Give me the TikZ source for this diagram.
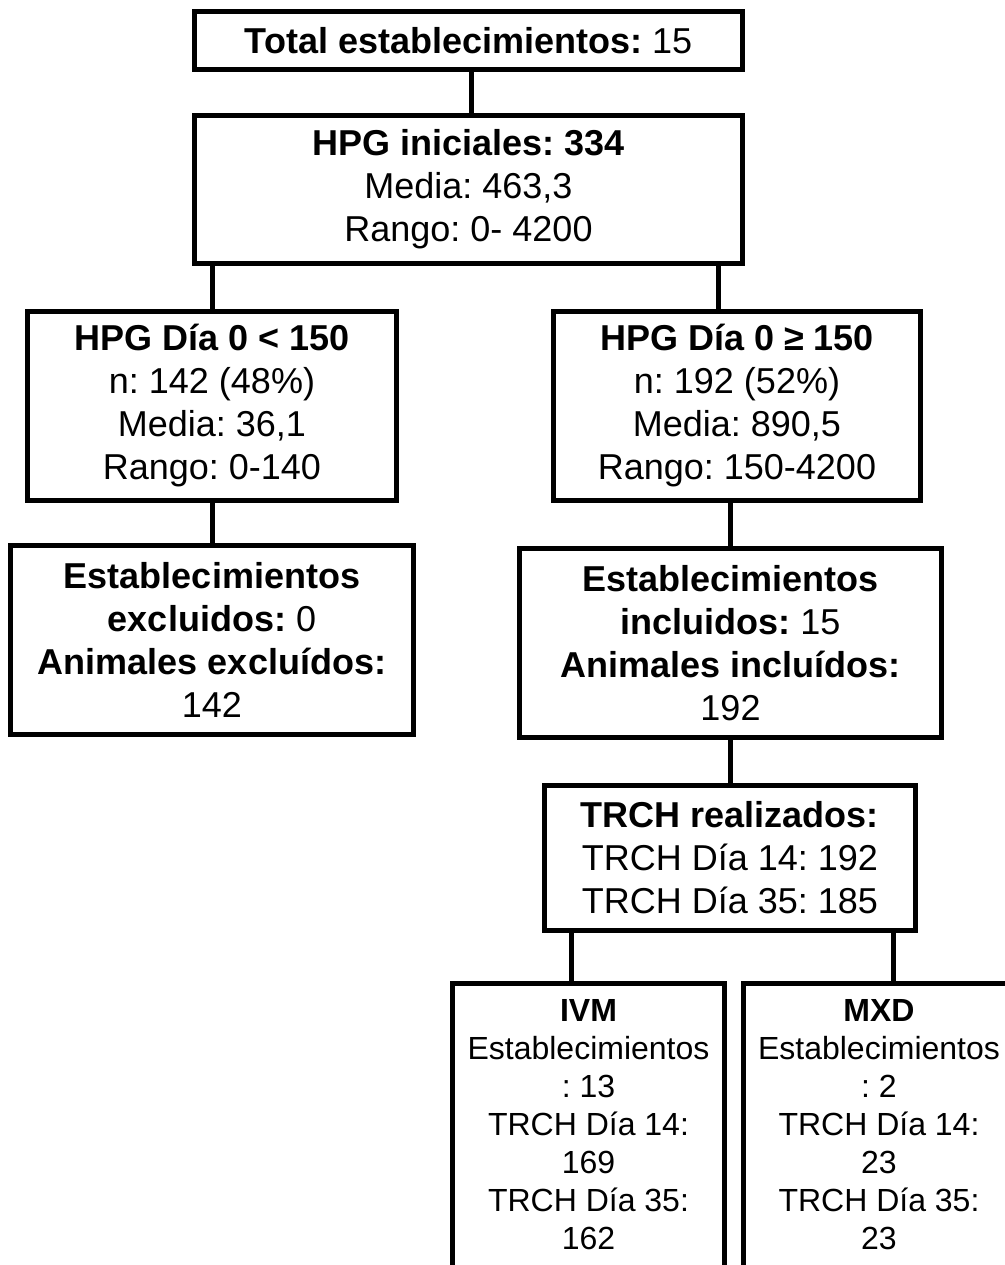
\documentclass[tikz,border=0pt]{standalone}
\usepackage{fontspec}
\setmainfont{Liberation Sans}
\usepackage{tikz}
\usetikzlibrary{positioning}
\frenchspacing
\newcommand{\cutoff}{\rule[-45pt]{0pt}{0pt}}
\tikzset{
 box/.style
  = {rectangle, draw, line width=3.75pt, align=center, inner sep=0pt,
     font=\fontsize{27}{32.25}\selectfont},
 cut/.style
  = {box, anchor=north, inner ysep=12.45pt, minimum width=204pt,
     font=\fontsize{24}{28.5}\selectfont},
 l/.style
  = {draw, line width=3.75pt},
}

\begin{document}
\begin{tikzpicture}[x=0.75pt,y=-0.75pt]
\useasboundingbox (0,0) rectangle (1005,1265);

% Top
\node[box, minimum width=411pt, minimum height=43.5pt] (total) at (468.5,40.5)
  {\textbf{Total establecimientos:} 15};
\node[box, minimum width=411pt, minimum height=111pt] (hpg) at (468.5,189.5)
  {\textbf{HPG iniciales: 334}\\Media: 463,3\\Rango: 0- 4200};

% HPG day 0
\node[box, minimum width=276.75pt, minimum height=141.75pt] (low) at (212,406)
  {\textbf{HPG Día 0 < 150}\\n: 142 (48\%)\\Media: 36,1\\Rango: 0-140};
\node[box, minimum width=275.25pt, minimum height=141.75pt] (high) at (737,406)
  {\textbf{HPG Día 0 ≥ 150}\\n: 192 (52\%)\\Media: 890,5\\Rango: 150-4200};

% Excluded / included
\node[box, minimum width=302.25pt, minimum height=141.75pt] (excl) at (212,640)
  {\textbf{Establecimientos}\\\textbf{excluidos:} 0\\\textbf{Animales excluídos:}\\142};
\node[box, minimum width=316.5pt, minimum height=141.75pt] (incl) at (730.5,643)
  {\textbf{Establecimientos}\\\textbf{incluidos:} 15\\\textbf{Animales incluídos:}\\192};

% TRCH
\node[box, minimum width=278.25pt, minimum height=108.75pt] (trch) at (730,858)
  {\textbf{TRCH realizados:}\\TRCH Día 14: 192\\TRCH Día 35: 185};

% Treatments
\node[cut] (ivm) at (588.5,980.5)
  {\textbf{IVM}\\Establecimientos\\: 13\\TRCH Día 14:\\169\\TRCH Día 35:\\162\cutoff};
\node[cut] (mxd) at (879,980.5)
  {\textbf{MXD}\\Establecimientos\\: 2\\TRCH Día 14:\\23\\TRCH Día 35:\\23\cutoff};

% Connectors
\draw[l] ([xshift=1.9pt]total.south) -- ([xshift=1.9pt]total.south |- hpg.north);
\draw[l] (hpg.south -| low.north) -- (low.north);
\draw[l] ([xshift=-14.25pt]high.north) -- ([xshift=-14.25pt]high.north |- hpg.south);
\draw[l] (low.south) -- (excl.north);
\draw[l] (high.south -| incl.north) -- (incl.north);
\draw[l] (incl.south -| trch.north) -- (trch.north);
\draw[l] ([xshift=-12.4pt]ivm.north) -- ([xshift=-12.4pt]ivm.north |- trch.south);
\draw[l] ([xshift=10.5pt]mxd.north) -- ([xshift=10.5pt]mxd.north |- trch.south);

\end{tikzpicture}
\end{document}
